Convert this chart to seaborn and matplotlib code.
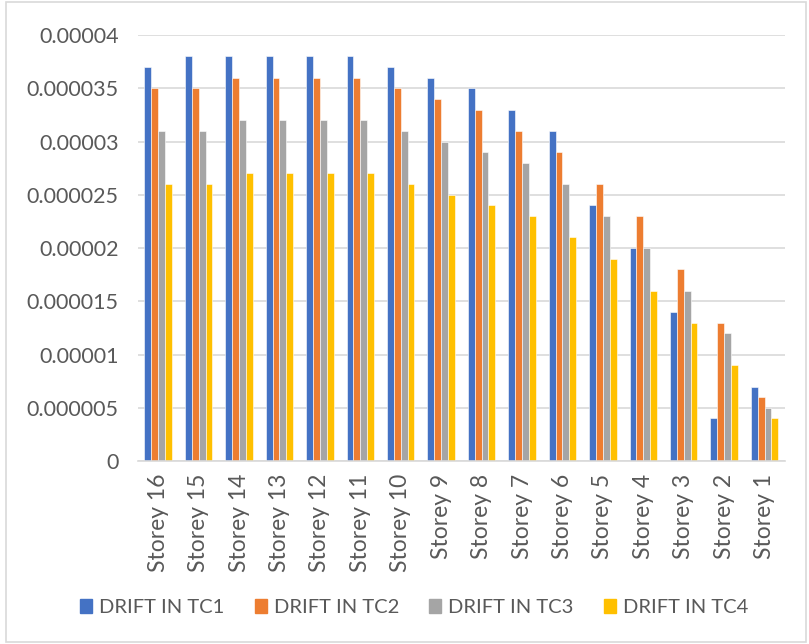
import matplotlib.pyplot as plt
import matplotlib.patches as mpatches
import pandas as pd
import seaborn as sns

storeys = ["Storey 16", "Storey 15", "Storey 14", "Storey 13", "Storey 12", "Storey 11",
           "Storey 10", "Storey 9", "Storey 8", "Storey 7", "Storey 6", "Storey 5",
           "Storey 4", "Storey 3", "Storey 2", "Storey 1"]
tc1 = [0.000037, 0.000038, 0.000038, 0.000038, 0.000038, 0.000038, 0.000037, 0.000036,
       0.000035, 0.000033, 0.000031, 0.000024, 0.00002, 0.000014, 0.000004, 0.000007]
tc2 = [0.000035, 0.000035, 0.000036, 0.000036, 0.000036, 0.000036, 0.000035, 0.000034,
       0.000033, 0.000031, 0.000029, 0.000026, 0.000023, 0.000018, 0.000013, 0.000006]
tc3 = [0.000031, 0.000031, 0.000032, 0.000032, 0.000032, 0.000032, 0.000031, 0.00003,
       0.000029, 0.000028, 0.000026, 0.000023, 0.00002, 0.000016, 0.000012, 0.000005]
tc4 = [0.000026, 0.000026, 0.000027, 0.000027, 0.000027, 0.000027, 0.000026, 0.000025,
       0.000024, 0.000023, 0.000021, 0.000019, 0.000016, 0.000013, 0.000009, 0.000004]
series = ["DRIFT IN TC1", "DRIFT IN TC2", "DRIFT IN TC3", "DRIFT IN TC4"]
colors = ["#4472C4", "#ED7D31", "#A5A5A5", "#FFC000"]
yticks = [0, 0.000005, 0.00001, 0.000015, 0.00002, 0.000025, 0.00003, 0.000035, 0.00004]
ytick_labels = ["0", "0.000005", "0.00001", "0.000015", "0.00002", "0.000025",
                "0.00003", "0.000035", "0.00004"]

# long format for seaborn
rows = []
for name, vals in zip(series, [tc1, tc2, tc3, tc4]):
    for s, v in zip(storeys, vals):
        rows.append({"storey": s, "series": name, "drift": v})
df = pd.DataFrame(rows)

sns.set_style("white")
plt.rcParams['font.family'] = ['Lato', 'DejaVu Sans']
text_col = "#595959"

fig = plt.figure(figsize=(8.09, 6.44), dpi=100)
ax = fig.add_axes([0.1706, 0.284, 0.7994, 0.6617])

sns.barplot(data=df, x="storey", y="drift", hue="series", palette=colors,
            order=storeys, hue_order=series, width=0.68, saturation=1,
            edgecolor="white", linewidth=0.4, ax=ax)

ax.set_ylim(0, 0.00004)
ax.set_xlim(-0.5, len(storeys) - 0.5)
ax.set_yticks(yticks)
ax.set_yticklabels(ytick_labels, fontsize=15.5, color=text_col)
ax.tick_params(axis="x", labelrotation=90, labelsize=16.5, colors=text_col, length=0, pad=9)
ax.tick_params(axis="y", length=0, pad=14)
ax.yaxis.grid(True, color="#d9d9d9", linewidth=1.2)
ax.set_axisbelow(True)
for side in ["top", "right", "left"]:
    ax.spines[side].set_visible(False)
ax.spines["bottom"].set_color("#d9d9d9")
ax.spines["bottom"].set_linewidth(1.2)
ax.set_xlabel("")
ax.set_ylabel("")

ax.get_legend().remove()
handles = [mpatches.Patch(color=c, label=s) for c, s in zip(colors, series)]
fig.legend(handles=handles, loc="center", bbox_to_anchor=(0.512, 0.057), ncol=4,
           frameon=False, fontsize=14.5, handlelength=0.6, handleheight=0.7,
           handletextpad=0.35, columnspacing=1.5, labelcolor=text_col)

# chart border
fig.patches.append(mpatches.Rectangle((0.008, 0.003), 0.988, 0.994, transform=fig.transFigure,
                                      fill=False, edgecolor="#d9d9d9", linewidth=1.2))

plt.savefig("out.png", dpi=100)
